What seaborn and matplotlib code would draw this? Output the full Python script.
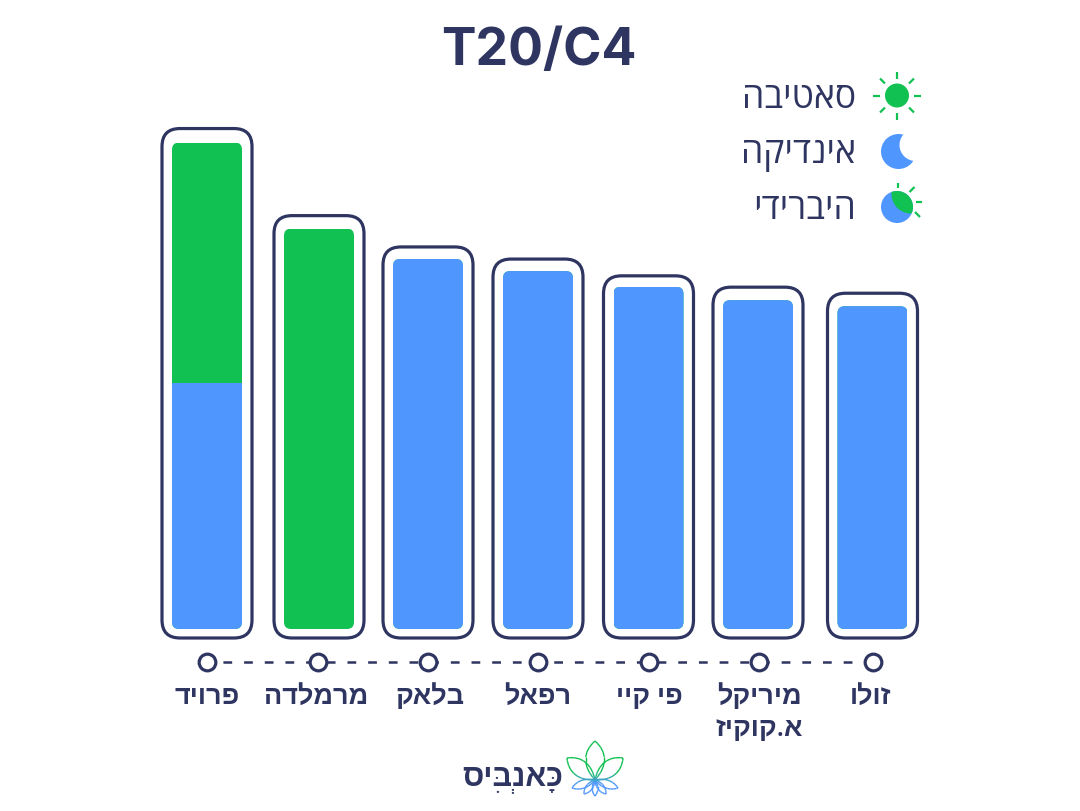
import numpy as np
import pandas as pd
import seaborn as sns
import matplotlib
matplotlib.use("Agg")
import matplotlib.pyplot as plt
from matplotlib.collections import LineCollection
from matplotlib.colors import to_rgb
from matplotlib.font_manager import FontProperties
from matplotlib.patches import Circle, FancyBboxPatch
from matplotlib.path import Path
from matplotlib.textpath import TextPath
from matplotlib.transforms import Affine2D

# ---- data -------------------------------------------------------------
title = "T20/C4"
strains = ["פרויד", "מרמלדה", "בלאק", "רפאל", "פי קיי", "מיריקל\nא.קוקיז", "זולו"]
thc_total = [20.06, 16.51, 15.26, 14.76, 14.11, 13.56, 13.31]
thc_blue = [10.15, 0.0, 15.26, 14.76, 14.11, 13.56, 13.31]
legend_labels = ["סאטיבה", "אינדיקה", "היברידי"]
brand_letters = "כאנביס"
brand_marks = ["\u05b8", "\u05bc", "\u05b0", "\u05b4", "\u05bc"]

# ---- style / layout ---------------------------------------------------
DARK = "#2f3561"
GREEN = "#11c151"
BLUE = "#5096ff"
W, H = 1080, 812
SLOT, X0, BASE, UNIT = 110.5, 207, 630, 24.25
bar_nudge_px = [0, 1.5, 0, -0.5, -0.5, -1.5, 2.5]
dot_nudge_px = [0, 0.5, 0, -0.5, 0, -0.5, 3]
label_nudge_px = [0, -2, 2, -0.5, 0.5, 0.5, -2]
frame_pad_px = [14, 13, 12, 12, 11, 13, 13]
mark_xy_px = [(552, 792), (553, 778), (513, 791), (498, 792), (497, 778)]
FONT = ["Open Sans", "Liberation Sans", "DejaVu Sans"]
TITLE_FONT = ["Inter", "Roboto", "DejaVu Sans"]


def rtl(s):
    """Visual order for Hebrew: matplotlib has no bidi."""
    return s[::-1]


sns.set_theme(style="white")
plt.rcParams["font.family"] = FONT
fig = plt.figure(figsize=(W / 100, H / 100), dpi=100, facecolor="white")
ax = fig.add_axes([0, 0, 1, 1])
df = pd.DataFrame({"strain": strains, "total": thc_total, "blue": thc_blue})
bar_kw = dict(saturation=1, width=70 / SLOT, linewidth=0, edgecolor="none", ax=ax)
sns.barplot(data=df, x="strain", y="total", color=GREEN, **bar_kw)
sns.barplot(data=df, x="strain", y="blue", color=BLUE, **bar_kw)
ax.set_xlim(-X0 / SLOT, (W - X0) / SLOT)
ax.set_ylim((BASE - H) / UNIT, BASE / UNIT)
ax.set_axis_off()

px = Affine2D().scale(1, -1).translate(0, H)


def rbox(x0, y0, x1, y1, r, **kw):
    return FancyBboxPatch((x0 + r, y0 + r), x1 - x0 - 2 * r, y1 - y0 - 2 * r,
                          boxstyle=f"round,pad={r},rounding_size={r}",
                          transform=px, **kw)


def to_px(x, y):
    return x * SLOT + X0, BASE - y * UNIT


green_bars, blue_bars = ax.containers[0], ax.containers[1]
for i, (g, b) in enumerate(zip(green_bars, blue_bars)):
    for r in (g, b):
        r.set_x(r.get_x() + bar_nudge_px[i] / SLOT)
    x0, y1 = to_px(g.get_x(), 0)
    x1, y0 = to_px(g.get_x() + g.get_width(), g.get_height())
    clip = rbox(x0, y0, x1, y1, 7, fc="none", ec="none")
    g.set_clip_path(clip)
    b.set_clip_path(clip)
    ax.add_patch(rbox(x0 - 10, y0 - frame_pad_px[i], x1 + 10, 639, 18,
                      fc="none", ec=DARK, lw=2.3, clip_on=False))

# dashed connector with ring markers
xs = np.arange(len(strains)) + np.array(dot_nudge_px) / SLOT
axis_y = (BASE - 663) / UNIT
ax.plot(xs, [axis_y] * len(xs), color=DARK, lw=1.8, ls=(1.9, (3.5, 4.77)), zorder=3)
ax.plot(xs, [axis_y] * len(xs), ls="none", marker="o", ms=12, mfc="white", mec=DARK, mew=2.3, zorder=4)

for x, n, name in zip(xs, label_nudge_px, strains):
    label = "\n".join(rtl(line) for line in name.split("\n"))
    ax.text(x + n / SLOT, (BASE - 683) / UNIT, label, ha="center", va="top", color=DARK,
            fontsize=19.5, fontweight="semibold", linespacing=1.2, family=FONT)

ax.text(539, 52, title, transform=px, ha="center", va="center", color=DARK,
        fontsize=37.3, fontweight="bold", family=TITLE_FONT)

# legend labels
for y, lab in zip((99, 154, 210), legend_labels):
    ax.text(856, y, rtl(lab), transform=px, ha="right", va="center", color=DARK,
            fontsize=25.7, family=FONT)


def seg(p, q, color=GREEN, lw=1.6):
    ax.add_line(plt.Line2D([p[0], q[0]], [p[1], q[1]], color=color, lw=lw,
                           transform=px, solid_capstyle="butt"))


# sun icon
ax.add_patch(Circle((897, 96.5), 12, fc=GREEN, ec="none", transform=px))
for a in np.deg2rad(np.arange(0, 360, 45)):
    c, s = np.cos(a), np.sin(a)
    seg((897 + 17 * c, 96.5 + 17 * s), (897 + 24 * c, 96.5 + 24 * s))

# moon icon
ax.add_patch(Circle((898.5, 152.5), 17.5, fc=BLUE, ec="none", transform=px))
ax.add_patch(Circle((915.5, 146), 16, fc="white", ec="none", transform=px))

# hybrid icon
disk = Circle((897, 208), 16, fc=BLUE, ec="none", transform=px)
ax.add_patch(disk)
lobe = Circle((911, 195), 19.5, fc=GREEN, ec="none", transform=px)
ax.add_patch(lobe)
lobe.set_clip_path(disk)
seg((898, 184), (898, 189))
seg((909.5, 193), (914.5, 188))
seg((915.5, 203), (922, 203))
seg((915, 213), (920, 218))


# brand mark
def leaf(tip, base, bulge):
    """Two-curve leaf outline from base to tip, in pixel coordinates."""
    tip, base = np.array(tip, float), np.array(base, float)
    d = tip - base
    n = np.array([-d[1], d[0]]) * bulge
    v = [base, base + 0.35 * d + n, base + 0.72 * d + n, tip,
         base + 0.72 * d - n, base + 0.35 * d - n, base]
    return Path(v, [Path.MOVETO] + [Path.CURVE4] * 6)


mix_top, mix_bot = 772, 785
ga, gb = np.array(to_rgb(GREEN)), np.array(to_rgb(BLUE))
root = (595, 781)
leaves = [leaf((595, 742), root, 0.32), leaf((567, 759), root, 0.30), leaf((623, 759), root, 0.30),
          leaf((572, 789), root, 0.22), leaf((618, 789), root, 0.22),
          leaf((584, 795), root, 0.24), leaf((606, 795), root, 0.24), leaf((595, 797), root, 0.24)]
for p in leaves:
    pts = p.interpolated(1).to_polygons(closed_only=False)[0]
    segs = np.stack([pts[:-1], pts[1:]], axis=1)
    t = np.clip((segs[:, :, 1].mean(axis=1) - mix_top) / (mix_bot - mix_top), 0, 1)[:, None]
    lc = LineCollection(segs, colors=ga * (1 - t) + gb * t, linewidths=1.0, transform=px, zorder=5)
    ax.add_collection(lc, autolim=False)

BRAND_SIZE = 22
ax.text(563, 778, rtl(brand_letters), transform=px, ha="right", va="center", color=DARK,
        fontsize=BRAND_SIZE, fontweight="bold", family=FONT)
# matplotlib has no mark positioning: each point sits where the reference shows it,
# preceded by a no-break space so that the text keeps a real width
mark_prop = FontProperties(family=FONT, weight="bold")
for (mx, my), m in zip(mark_xy_px, brand_marks):
    s = "\u00a0" + m
    ink = TextPath((0, 0), s, size=BRAND_SIZE, prop=mark_prop).get_extents()
    k = 100 / 72
    ax.text(mx - (ink.x0 + ink.x1) / 2 * k, my + (ink.y0 + ink.y1) / 2 * k, s,
            transform=px, ha="left", va="baseline", color=DARK,
            fontsize=BRAND_SIZE, fontweight="bold", family=FONT)

fig.savefig("out.png", dpi=100, facecolor="white")
